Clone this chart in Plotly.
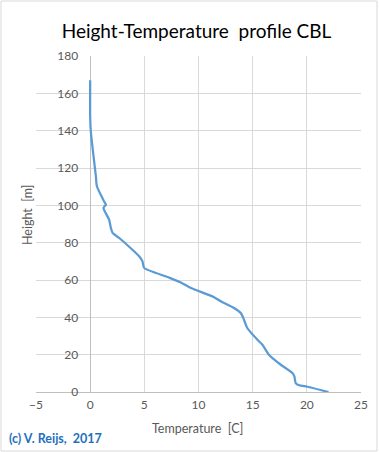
import plotly.graph_objects as go

# Data
temperature = [22.0, 20.05, 19.3, 18.97, 18.85, 18.67, 17.6, 16.5, 15.9, 15.44, 14.5, 14.2,
               13.9, 13.28, 12.05, 11.4, 9.3, 8.37, 7.14, 4.98, 4.83, 4.52, 2.77, 2.07, 1.91,
               1.75, 1.23, 1.45, 1.29, 0.62, 0.53, 0.31, 0.06, 0.0, 0.0]
height = [0, 2.8, 3.6, 4.8, 8.4, 10.2, 14.6, 20, 25.3, 28, 34.3, 38.7,
          42.3, 45, 48.6, 50.9, 55.7, 58.7, 61.6, 66.5, 70, 72.7, 82.1, 85.2, 87.9,
          92.3, 98.6, 100.4, 102.1, 110.2, 115.5, 126.3, 139.7, 147.7, 167]

x_ticks = [-5, 0, 5, 10, 15, 20, 25]
y_ticks = [0, 20, 40, 60, 80, 100, 120, 140, 160, 180]

W, H = 379, 452
L, R, T, B = 36, 18, 56, 60
pw, ph = W - L - R, H - T - B

fig = go.Figure()
fig.add_trace(go.Scatter(x=temperature, y=height, mode="lines",
                         line=dict(color="#5B9BD5", width=2.25, shape="spline", smoothing=0.6),
                         showlegend=False, hoverinfo="skip"))

font_main = "Lato, 'Open Sans', sans-serif"
grey = "#595959"

fig.update_layout(
    width=W, height=H,
    margin=dict(l=L, r=R, t=T, b=B, pad=0),
    paper_bgcolor="white", plot_bgcolor="white",
    font=dict(family=font_main, color=grey, size=12),
    title=dict(text="Height-Temperature  profile CBL", x=196.5 / W, xanchor="center",
               y=1 - 31 / H, yanchor="middle",
               font=dict(size=19, color="black", family=font_main)),
    xaxis=dict(range=[-5, 25], tickvals=x_ticks, showgrid=True, gridcolor="#D9D9D9",
               gridwidth=1, zeroline=True, zerolinecolor="#BFBFBF", zerolinewidth=1,
               showline=True, linecolor="#BFBFBF", linewidth=1, ticks="",
               tickfont=dict(size=12, color=grey), fixedrange=True,
               ticklabelstandoff=2),
    yaxis=dict(range=[0, 180], tickvals=y_ticks, showgrid=True, gridcolor="#D9D9D9",
               gridwidth=1, zeroline=False, showline=False, ticks="",
               anchor="free", position=(0 - (-5)) / 30,
               tickfont=dict(size=12, color=grey), fixedrange=True,
               ticklabelstandoff=12),
    annotations=[
        dict(text="Temperature  [C]", xref="paper", yref="paper",
             x=(197 - L) / pw, y=-(428 - (T + ph)) / ph, xanchor="center", yanchor="middle",
             showarrow=False, font=dict(size=12.5, color=grey, family=font_main)),
        dict(text="Height  [m]", xref="paper", yref="paper", textangle=-90,
             x=(27 - L) / pw, y=1 - (215 - T) / ph, xanchor="center", yanchor="middle",
             showarrow=False, font=dict(size=12.5, color=grey, family=font_main)),
        dict(text="<b>(c) V. Reijs,  2017</b>", xref="paper", yref="paper",
             x=(7 - L) / pw, y=-(438 - (T + ph)) / ph, xanchor="left", yanchor="middle",
             showarrow=False, font=dict(size=12.5, color="#1F6FC0", family=font_main)),
    ],
    shapes=[
        dict(type="rect", xref="paper", yref="paper",
             x0=(1 - L) / pw, x1=(377 - L) / pw,
             y0=-(451 - (T + ph)) / ph, y1=1 + (T - 1) / ph,
             line=dict(color="#D9D9D9", width=1), fillcolor="rgba(0,0,0,0)", layer="below"),
    ],
)

fig.write_html("out.html", config={"displayModeBar": False},
               post_script="document.body.style.margin='0';")
